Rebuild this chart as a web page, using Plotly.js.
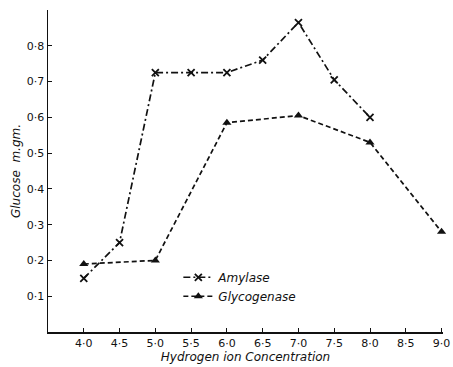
<!DOCTYPE html>
<html>
<head>
<meta charset="utf-8">
<script src="https://cdn.plot.ly/plotly-3.0.1.min.js"></script>
<style>html,body{margin:0;padding:0;background:#fff;}#chart{width:453px;height:367px;}</style>
</head>
<body>
<div id="chart"></div>
<script>
var amylasePH = [4.0, 4.5, 5.0, 5.5, 6.0, 6.5, 7.0, 7.5, 8.0];
var amylaseGlucose = [0.15, 0.25, 0.725, 0.725, 0.725, 0.76, 0.865, 0.705, 0.60];
var glycogenasePH = [4.0, 5.0, 6.0, 7.0, 8.0, 9.0];
var glycogenaseGlucose = [0.19, 0.20, 0.585, 0.605, 0.53, 0.28];
var xTickVals = [4.0, 4.5, 5.0, 5.5, 6.0, 6.5, 7.0, 7.5, 8.0, 8.5, 9.0];
var xTickText = ['4·0','4·5','5·0','5·5','6·0','6·5','7·0','7·5','8·0','8·5','9·0'];
var yTickVals = [0.1, 0.2, 0.3, 0.4, 0.5, 0.6, 0.7, 0.8];
var yTickText = ['0·1','0·2','0·3','0·4','0·5','0·6','0·7','0·8'];

var traces = [
  {x: amylasePH, y: amylaseGlucose, name: 'Amylase', mode: 'lines+markers', type: 'scatter', cliponaxis: false,
   line: {color: '#111', width: 1.7, dash: '7px,3px,2px,3px'},
   marker: {symbol: 'x-thin', size: 7, line: {color: '#111', width: 1.8}, color: '#111'}},
  {x: glycogenasePH, y: glycogenaseGlucose, name: 'Glycogenase', mode: 'lines+markers', type: 'scatter', cliponaxis: false,
   line: {color: '#111', width: 1.7, dash: '5px,3px'},
   marker: {symbol: 'triangle-up', size: 8, color: '#111'}}
];

var layout = {
  width: 453, height: 367,
  margin: {l: 48, r: 10, t: 10, b: 35},
  paper_bgcolor: '#fff', plot_bgcolor: '#fff',
  font: {family: 'DejaVu Sans', color: '#111', size: 11},
  showlegend: true,
  legend: {x: 0.33, y: 0.215, xanchor: 'left', yanchor: 'top', bgcolor: 'rgba(0,0,0,0)',
           font: {size: 12, family: 'DejaVu Sans', style: 'italic'}, tracegroupgap: 0},
  xaxis: {range: [3.5, 9.02], showgrid: false, zeroline: false, showline: true, linecolor: '#111', linewidth: 1.5,
          ticks: 'inside', ticklen: 4, tickcolor: '#111', tickvals: xTickVals, ticktext: xTickText,
          title: {text: 'Hydrogen ion Concentration', font: {size: 12, style: 'italic'}, standoff: 2}},
  yaxis: {range: [0, 0.9], showgrid: false, zeroline: false, showline: true, linecolor: '#111', linewidth: 1.5,
          ticks: 'inside', ticklen: 4, tickcolor: '#111', tickvals: yTickVals, ticktext: yTickText,
          title: {text: 'Glucose  m.gm.', font: {size: 12, style: 'italic'}, standoff: 3}}
};
Plotly.newPlot('chart', traces, layout, {displayModeBar: false, staticPlot: true});
</script>
</body>
</html>
